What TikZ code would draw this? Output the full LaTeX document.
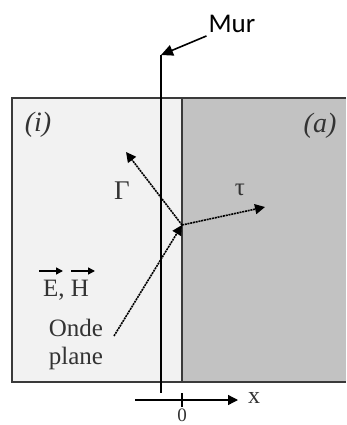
\documentclass[tikz,border=0pt]{standalone}
\usepackage{fontspec}
\setmainfont{Liberation Serif}
\newfontfamily\calibrifont{Carlito}
\usetikzlibrary{arrows.meta}
\definecolor{lightfill}{HTML}{F2F2F2}
\definecolor{darkfill}{HTML}{C2C2C2}
\definecolor{border}{HTML}{3A3A3A}
\definecolor{txt}{HTML}{333333}
\begin{document}
\begin{tikzpicture}[x=1pt,y=-1pt,
  lbl/.style={inner sep=0pt,text=txt,font=\fontsize{25}{28}\selectfont},
  wave/.style={line width=1.6pt,dash pattern=on 2pt off 0.8pt,-{Triangle[length=10pt,width=10pt]}},
  solid line/.style={line width=1.6pt,black}]
\useasboundingbox (0,0) rectangle (346,425);
\fill[white] (0,0) rectangle (346,425);
% regions
\fill[lightfill] (12,98) rectangle (182,382);
\fill[darkfill] (182,98) rectangle (346,382);
\draw[border,line width=1.8pt] (346,98) -- (12,98) -- (12,382) -- (346,382);
\draw[border,line width=1.6pt] (182,98) -- (182,382);
% labels
\node[lbl,font=\fontsize{28}{30}\itshape] (ireg) at (38,125) {(i)};
\node[lbl,font=\fontsize{28}{30}\itshape] (areg) at (320,126) {(a)};
\node[lbl,font=\fontsize{27}{30}\selectfont] (gam) at (122,191) {Γ};
\node[lbl] (tau) at (240,190) {τ};
\node[lbl] (eh) at (66,290) {E, H};
\node[lbl,align=center,font=\fontsize{25}{28}\selectfont] (onde) at (76,344) {Onde\\plane};
\node[inner sep=0pt,font=\calibrifont\fontsize{27}{30}\selectfont] (mur) at (232,24) {Mur};
% points
\coordinate (J) at (182,225);
\coordinate (G) at (126,152);
\coordinate (T) at (265,207);
\coordinate (W) at (114,336);
% waves
\draw[wave] (J) -- (G);
\draw[wave] (J) -- (T);
\draw[wave] (W) -- (J);
% vector arrows over E and H
\draw[line width=1.5pt,-{Triangle[length=7pt,width=7pt]}] (39,271) -- (63,271);
\draw[line width=1.5pt,-{Triangle[length=7pt,width=7pt]}] (71,271) -- (95,271);
% wall
\coordinate (mtop) at (161,55);
\coordinate (mbot) at (161,393);
\draw[solid line] (mtop) -- (mbot);
\draw[solid line,-{Triangle[length=12pt,width=11pt]}] (mur.south west) ++(-2,3) -- (mtop);
% axis
\coordinate (ax0) at (135,400);
\coordinate (ax1) at (238,400);
\draw[line width=1.3pt,black,-{Triangle[length=10pt,width=10pt]}] (ax0) -- (ax1);
\draw[line width=2.4pt] (182,393) -- (182,407);
\node[lbl,font=\fontsize{19}{21}\selectfont] (zero) at (182,415.5) {0};
\node[lbl,font=\fontsize{24}{26}\selectfont] (xlab) at (254,398) {x};
\end{tikzpicture}
\end{document}
